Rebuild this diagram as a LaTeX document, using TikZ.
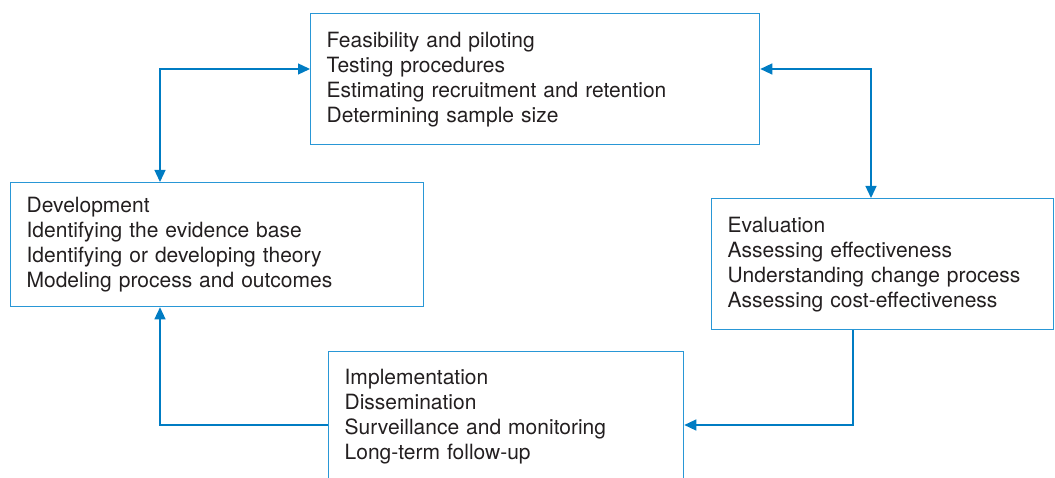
\documentclass[tikz,border=0pt]{standalone}
\usepackage{fontspec}
\setmainfont{TeX Gyre Heros}
\usetikzlibrary{arrows.meta}
\definecolor{boxblue}{RGB}{41,151,214}
\definecolor{linkblue}{RGB}{0,124,195}
\definecolor{inkgray}{RGB}{35,31,32}

\begin{document}
\begin{tikzpicture}[x=1pt, y=-1pt,
    stage/.style={draw=boxblue, line width=1.3pt, anchor=north west, align=left,
      inner xsep=16pt, inner ysep=0pt, text=inkgray,
      font=\fontsize{21}{25}\selectfont},
    link/.style={draw=linkblue, line width=1.3pt,
      >={Triangle[length=12pt,width=11pt]}}]

    \clip (0,0) rectangle (1055,478);

    \node[stage, text width=417pt, minimum height=131pt] (feas) at (310,13)
      {Feasibility and piloting\\Testing procedures\\Estimating recruitment and retention\\Determining sample size};
    \node[stage, text width=381pt, minimum height=124pt] (devel) at (10,182)
      {Development\\Identifying the evidence base\\Identifying or developing theory\\Modeling process and outcomes};
    \node[stage, text width=310pt, minimum height=131pt] (eval) at (711,198)
      {Evaluation\\Assessing effectiveness\\Understanding change process\\Assessing cost-effectiveness};
    \node[stage, text width=323pt, minimum height=130pt] (impl) at (328,351)
      {Implementation\\Dissemination\\Surveillance and monitoring\\Long-term follow-up};

    \draw[link, <->] ([yshift=-56pt]feas.north west) -| ([xshift=150pt]devel.north west);
    \draw[link, <->] ([yshift=-56pt]feas.north east) -| ([xshift=160pt]eval.north west);
    \draw[link, ->] ([xshift=142pt]eval.south west) |- ([yshift=-74pt]impl.north east);
    \draw[link, ->] ([yshift=-74pt]impl.north west) -| ([xshift=150pt]devel.south west);

  \end{tikzpicture}
\end{document}
